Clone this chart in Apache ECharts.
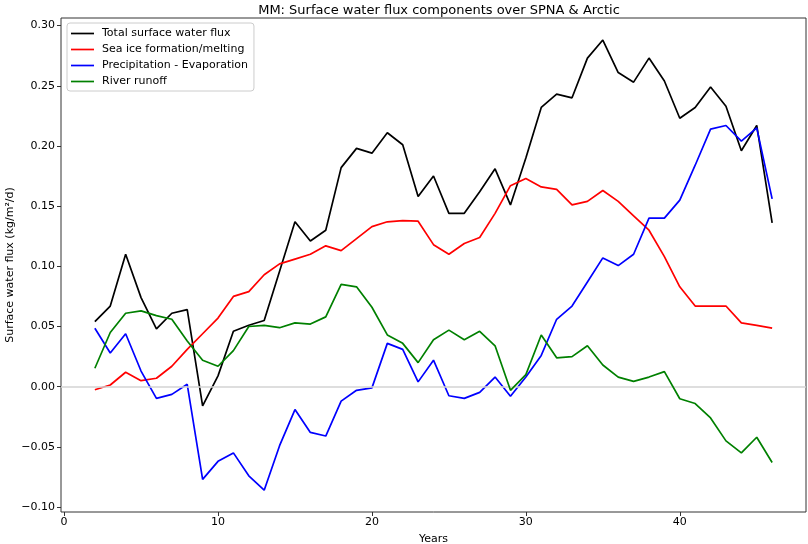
<!DOCTYPE html>
<html>
<head>
<meta charset="utf-8">
<title>MM: Surface water flux components</title>
<script src="https://cdn.jsdelivr.net/npm/echarts@6.0.0/dist/echarts.min.js"></script>
<style>
html, body { margin: 0; padding: 0; background: #fff; }
#main { width: 808px; height: 544px; }
</style>
</head>
<body>
<div id="main"></div>
<script>
// years 2..46
var years = [2,3,4,5,6,7,8,9,10,11,12,13,14,15,16,17,18,19,20,21,22,23,24,
             25,26,27,28,29,30,31,32,33,34,35,36,37,38,39,40,41,42,43,44,45,46];

var totalFlux = [0.054,0.067,0.110,0.074,0.048,0.061,0.064,-0.016,0.009,0.046,0.051,0.055,0.096,
                 0.137,0.121,0.130,0.182,0.198,0.194,0.211,0.201,0.158,0.175,0.144,0.144,0.162,
                 0.181,0.151,0.190,0.232,0.243,0.240,0.273,0.288,0.261,0.253,0.273,0.254,0.223,
                 0.232,0.249,0.233,0.196,0.217,0.136];

var seaIce = [-0.0025,0.0014,0.012,0.005,0.007,0.017,0.031,0.044,0.057,0.075,0.079,0.093,0.102,
              0.106,0.110,0.117,0.113,0.123,0.133,0.137,0.138,0.1375,0.118,0.110,0.119,0.124,
              0.144,0.167,0.173,0.166,0.164,0.151,0.154,0.163,0.154,0.142,0.130,0.108,0.083,
              0.067,0.067,0.067,0.053,0.051,0.0486];

var precipEvap = [0.0486,0.028,0.044,0.013,-0.0097,-0.0064,0.002,-0.077,-0.062,-0.055,-0.074,-0.086,-0.049,
                  -0.019,-0.038,-0.041,-0.012,-0.003,-0.001,0.036,0.031,0.004,0.022,-0.0075,-0.0097,-0.0047,
                  0.008,-0.008,0.008,0.026,0.056,0.067,0.087,0.107,0.1006,0.110,0.140,0.140,0.155,
                  0.184,0.214,0.217,0.204,0.215,0.156];

var riverRunoff = [0.0153,0.045,0.061,0.063,0.059,0.056,0.038,0.022,0.017,0.030,0.050,0.051,0.049,
                   0.053,0.052,0.058,0.085,0.083,0.066,0.043,0.036,0.020,0.039,0.047,0.039,0.046,
                   0.034,-0.003,0.010,0.043,0.024,0.025,0.034,0.018,0.008,0.0044,0.008,0.0125,-0.010,
                   -0.014,-0.026,-0.045,-0.055,-0.042,-0.063];

var xTicks = [0, 10, 20, 30, 40];
var yTicks = [-0.10, -0.05, 0.00, 0.05, 0.10, 0.15, 0.20, 0.25, 0.30];

var seriesNames = ['Total surface water flux', 'Sea ice formation/melting',
                   'Precipitation - Evaporation', 'River runoff'];
var seriesColors = ['#000000', '#ff0000', '#0000ff', '#008000'];
var seriesValues = [totalFlux, seaIce, precipEvap, riverRunoff];

function pairs(vals) {
    return years.map(function (y, i) { return [y, vals[i]]; });
}

var font = 'DejaVu Sans';
var myChart = echarts.init(document.getElementById('main'), null, {renderer: 'canvas'});

var series = [{
    // zero reference line
    name: 'zero',
    type: 'line',
    data: [],
    z: 1,
    silent: true,
    markLine: {
        silent: true,
        symbol: 'none',
        label: {show: false},
        lineStyle: {color: '#d3d3d3', width: 1.5, type: 'solid'},
        data: [{yAxis: 0}]
    }
}];
seriesNames.forEach(function (n, i) {
    series.push({
        name: n,
        type: 'line',
        data: pairs(seriesValues[i]),
        showSymbol: false,
        symbol: 'none',
        z: 2 + i,
        lineStyle: {color: seriesColors[i], width: 1.7},
        itemStyle: {color: seriesColors[i]}
    });
});

var option = {
    animation: false,
    backgroundColor: '#ffffff',
    textStyle: {fontFamily: font},
    title: {
        text: 'MM: Surface water flux components over SPNA & Arctic',
        left: 434,
        top: -1,
        textAlign: 'center',
        textStyle: {fontFamily: font, fontSize: 13, fontWeight: 'normal', color: '#000'}
    },
    legend: {
        data: seriesNames,
        orient: 'vertical',
        left: 67,
        top: 23,
        icon: 'rect',
        itemWidth: 23,
        itemHeight: 1.7,
        itemGap: 3,
        padding: [4, 6, 3, 4],
        backgroundColor: '#ffffff',
        borderColor: '#cccccc',
        borderWidth: 1,
        borderRadius: 3,
        textStyle: {fontFamily: font, fontSize: 11, color: '#000', lineHeight: 13, padding: [0, 0, 0, 3]}
    },
    grid: {
        left: 61, right: 2, top: 18, bottom: 32,
        outerBoundsMode: 'none',
        containLabel: false,
        show: true,
        borderColor: '#333333',
        borderWidth: 1,
        backgroundColor: 'transparent'
    },
    xAxis: {
        type: 'value',
        min: -0.2,
        max: 48.2,
        name: 'Years',
        nameLocation: 'middle',
        nameGap: 22,
        nameMoveOverlap: false,
        nameTextStyle: {fontFamily: font, fontSize: 11, color: '#000'},
        splitLine: {show: false},
        axisLine: {show: false, onZero: false},
        axisTick: {show: true, length: 4, lineStyle: {color: '#333'}, customValues: xTicks},
        axisLabel: {fontFamily: font, fontSize: 11, color: '#000', margin: 5, customValues: xTicks}
    },
    yAxis: {
        type: 'value',
        min: -0.1041,
        max: 0.3063,
        name: 'Surface water flux (kg/m\u00b2/d)',
        nameLocation: 'middle',
        nameRotate: 90,
        nameGap: 45,
        nameMoveOverlap: false,
        nameTextStyle: {fontFamily: font, fontSize: 11, color: '#000'},
        splitLine: {show: false},
        axisLine: {show: false, onZero: false},
        axisTick: {show: true, length: 4, lineStyle: {color: '#333'}, customValues: yTicks},
        axisLabel: {
            fontFamily: font, fontSize: 11, color: '#000', margin: 6,
            customValues: yTicks,
            formatter: function (v) {
                var s = Math.abs(v).toFixed(2);
                return v < -1e-9 ? '\u2212' + s : s;
            }
        }
    },
    series: series
};

myChart.setOption(option);
</script>
</body>
</html>
